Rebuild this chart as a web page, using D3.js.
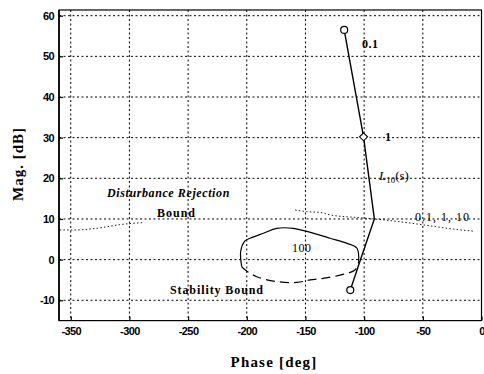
<!DOCTYPE html>
<html><head><meta charset="utf-8">
<script src="https://cdn.jsdelivr.net/npm/d3@7/dist/d3.min.js"></script>
<style>
body{margin:0;background:#fff;}
svg{display:block;}
.tick text{font-family:"Liberation Sans Narrow","Liberation Sans",Arial,sans-serif;font-stretch:condensed;font-weight:bold;font-size:11px;letter-spacing:-0.6px;fill:#000;}
.lbl{font-family:"Liberation Serif","DejaVu Serif",serif;font-weight:bold;fill:#000;}
</style></head>
<body>
<svg id="c" width="484" height="374"></svg>
<script>
// ---- data ----
const xTicks = [-350, -300, -250, -200, -150, -100, -50, 0];
const yTicks = [-10, 0, 10, 20, 30, 40, 50, 60];
// open-loop L10(s) at frequencies
const l10Freq  = [0.1, 1, 10, 50, 100];
const l10Phase = [-117, -100.5, -91.3, -104.5, -111.8];
const l10Mag   = [56.5, 30.2, 10.0, -1.2, -7.5];
// disturbance rejection bound (visible pieces)
const distPhaseA = [-359.4, -346.6, -325.3, -308.2, -288.5];
const distMagA   = [7.3, 7.3, 7.8, 8.6, 9.1];
const distPhaseB = [-158.8, -148.8, -137.4, -128.9, -103.3, -91.3, -69.1, -43.5, -23.9, -6.8];
const distMagB   = [12.2, 11.8, 11.6, 11.0, 10.3, 10.0, 9.3, 8.3, 7.5, 7.0];
// stability bound at w = 100 (upper solid part, lower dashed part)
const stabPhaseTop = [-204.3, -205.2, -201.5, -197.2, -185.8, -174.4, -160.5, -143.4, -128.9, -114.6, -106.1, -104.7];
const stabMagTop   = [-1.7, 2.0, 4.6, 5.25, 6.5, 7.7, 7.7, 6.5, 5.25, 4.0, 2.8, -0.5];
const stabPhaseBot = [-204.3, -201.5, -191.5, -174.4, -157.3, -146, -134.9, -120.4, -107.6, -104.7];
const stabMagBot   = [-1.7, -2.5, -4.2, -5.4, -5.6, -5.0, -4.6, -3.8, -2.5, -0.5];

// ---- layout ----
const svg = d3.select("#c");
const x = d3.scaleLinear().domain([-360, 0]).range([59, 481.5]);
const y = d3.scaleLinear().domain([-15, 61.4]).range([320.6, 10]);
const L = 59, R = 481.5, T = 10, B = 320.6;

// grid
const g = svg.append("g");
g.selectAll(".gx").data(xTicks).enter().append("line")
  .attr("x1", d => x(d)).attr("x2", d => x(d)).attr("y1", T).attr("y2", B)
  .attr("stroke", "#000").attr("stroke-width", 1).attr("stroke-dasharray", "2,2.5");
g.selectAll(".gy").data(yTicks).enter().append("line")
  .attr("x1", L).attr("x2", R).attr("y1", d => y(d)).attr("y2", d => y(d))
  .attr("stroke", "#000").attr("stroke-width", 1).attr("stroke-dasharray", "2,2.5");

// axes
const fmt = d => String(d);
const xAxis = d3.axisBottom(x).tickValues(xTicks).tickSize(-4).tickPadding(8).tickFormat(fmt);
const yAxis = d3.axisLeft(y).tickValues(yTicks).tickSize(-4).tickPadding(5).tickFormat(fmt);
const gx = svg.append("g").attr("transform", `translate(0,${B})`).call(xAxis);
const gy = svg.append("g").attr("transform", `translate(${L},0)`).call(yAxis);
[gx, gy].forEach(a => { a.select(".domain").remove(); a.selectAll("line").attr("stroke", "#000").attr("stroke-width", 1.2); });
gx.selectAll("text").attr("dy", "0.55em");

// frame
svg.append("rect").attr("x", L).attr("y", T).attr("width", R - L).attr("height", B - T)
  .attr("fill", "none").attr("stroke", "#000").attr("stroke-width", 1.2);
svg.append("line").attr("x1", L).attr("x2", L).attr("y1", T).attr("y2", B).attr("stroke", "#000").attr("stroke-width", 1.6);

const zip = (a, b) => a.map((v, i) => [v, b[i]]);
const mk = c => d3.line().x(d => x(d[0])).y(d => y(d[1])).curve(c);

// disturbance bound
[zip(distPhaseA, distMagA), zip(distPhaseB, distMagB)].forEach(pts => {
  svg.append("path").attr("d", mk(d3.curveMonotoneX)(pts)).attr("fill", "none")
    .attr("stroke", "#000").attr("stroke-width", 0.9).attr("stroke-dasharray", "1.5,2.2");
});

// stability bound
svg.append("path").attr("d", mk(d3.curveCatmullRom.alpha(0.5))(zip(stabPhaseTop, stabMagTop)))
  .attr("fill", "none").attr("stroke", "#000").attr("stroke-width", 1.2);
svg.append("path").attr("d", mk(d3.curveCatmullRom.alpha(0.5))(zip(stabPhaseBot, stabMagBot)))
  .attr("fill", "none").attr("stroke", "#000").attr("stroke-width", 1.2).attr("stroke-dasharray", "9,5");

// L10 curve
const lpts = zip(l10Phase, l10Mag);
svg.append("path").attr("d", mk(d3.curveLinear)(lpts))
  .attr("fill", "none").attr("stroke", "#000").attr("stroke-width", 1.4);
// markers
[0, 4].forEach(i => {
  svg.append("circle").attr("cx", x(l10Phase[i])).attr("cy", y(l10Mag[i])).attr("r", 3.5)
    .attr("fill", "#fff").attr("stroke", "#000").attr("stroke-width", 1.2);
});
{
  const cx = x(l10Phase[1]), cy = y(l10Mag[1]), s = 4;
  svg.append("path").attr("d", `M${cx},${cy - s}L${cx + s},${cy}L${cx},${cy + s}L${cx - s},${cy}Z`)
    .attr("fill", "#fff").attr("stroke", "#000").attr("stroke-width", 1.1);
}

// labels
function txt(s, px, py, size, opts = {}) {
  const t = svg.append("text").attr("class", "lbl").attr("x", px).attr("y", py)
    .style("font-size", size + "px").text(s);
  if (opts.italic) t.style("font-style", "italic");
  if (opts.ls) t.style("letter-spacing", opts.ls + "px");
  if (opts.anchor) t.attr("text-anchor", opts.anchor);
  if (opts.weight) t.style("font-weight", opts.weight);
  return t;
}
txt("0.1", 362, 48, 12, {ls: 0.5});
txt("1", 385, 141, 12);
{
  const t = svg.append("text").attr("class", "lbl").attr("x", 379).attr("y", 180)
    .style("font-size", "13px").style("font-weight", "normal");
  t.append("tspan").text("L").style("font-style", "italic");
  t.append("tspan").text("10").attr("dy", 3).style("font-size", "9px");
  t.append("tspan").text("(s)").attr("dy", -3);
}
txt("0.1, 1, 10", 415, 221, 12, {ls: 1, weight: "normal"});
txt("Disturbance Rejection", 107, 197, 12, {italic: true, ls: 0.6});
txt("Bound", 157, 217, 12, {ls: 1});
txt("100", 292, 252, 12, {weight: "normal", ls: 0.5});
txt("Stability Bound", 170, 294, 12, {ls: 0.9});

// axis titles
txt("Phase [deg]", 274, 367, 15, {anchor: "middle", ls: 1.2});
svg.append("text").attr("class", "lbl").attr("transform", "translate(23,164) rotate(-90)")
  .attr("text-anchor", "middle").style("font-size", "15px").style("letter-spacing", "1px").text("Mag. [dB]");
</script>
</body></html>
